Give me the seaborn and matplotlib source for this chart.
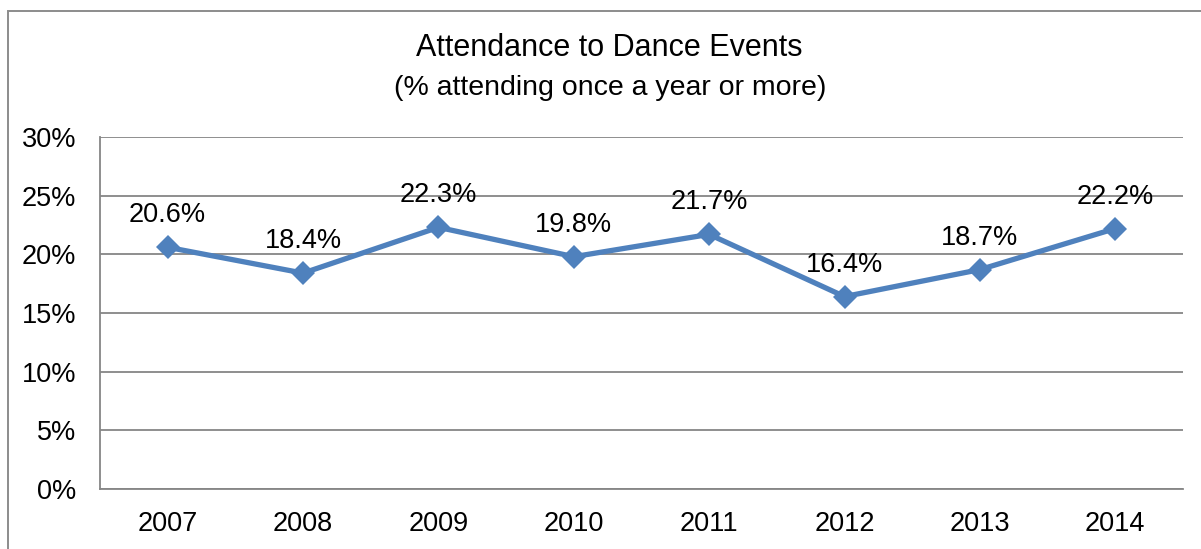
import pandas as pd
import matplotlib
matplotlib.use("Agg")
import matplotlib.pyplot as plt
import seaborn as sns
from matplotlib.patches import Rectangle
from matplotlib.ticker import FixedLocator, PercentFormatter

years = ["2007", "2008", "2009", "2010", "2011", "2012", "2013", "2014"]
attendance = [20.6, 18.4, 22.3, 19.8, 21.7, 16.4, 18.7, 22.2]
y_ticks = [0, 5, 10, 15, 20, 25, 30]

sns.set_theme(style="white")
plt.rcParams['font.family'] = ['Liberation Sans', 'DejaVu Sans']

GREY = '#868686'
LINE = '#4F81BD'

df = pd.DataFrame({'Year': years, 'Attendance': attendance})

fig = plt.figure(figsize=(12.01, 5.49), dpi=100)
fig.patch.set_facecolor('white')
ax = fig.add_axes([100 / 1201, 1 - 489 / 549, 1083 / 1201, 352 / 549])

sns.lineplot(data=df, x='Year', y='Attendance', ax=ax, color=LINE,
             linewidth=3.8, marker='D', markersize=12, markeredgewidth=0,
             sort=False)

ax.set_xlim(-0.5, len(years) - 0.5)
ax.set_ylim(0, 30)
ax.set_yticks(y_ticks)
ax.yaxis.set_major_formatter(PercentFormatter(decimals=0))
ax.set_xticks(range(len(years)))
ax.set_xticklabels(years)
ax.xaxis.set_minor_locator(FixedLocator([i - 0.5 for i in range(len(years) + 1)]))
ax.tick_params(axis='x', which='major', length=0, pad=16, labelsize=19.5, colors='black')
ax.tick_params(axis='x', which='minor', length=8, width=1.1, color=GREY, direction='out')
ax.tick_params(axis='y', which='major', length=8, width=1.1, color=GREY, direction='out',
               pad=9, labelsize=19.5, labelcolor='black')
ax.set_xlabel('')
ax.set_ylabel('')

ax.grid(axis='y', color=GREY, linewidth=1.3)
ax.grid(axis='x', visible=False)
ax.set_axisbelow(True)
for side in ['top', 'right']:
    ax.spines[side].set_visible(False)
for side in ['left', 'bottom']:
    ax.spines[side].set_color(GREY)
    ax.spines[side].set_linewidth(1.3)

for i, v in enumerate(attendance):
    ax.annotate(f'{v:.1f}%', (i, v), xytext=(0, 18), textcoords='offset points',
                ha='center', va='baseline', fontsize=19.5, color='black')

fig.text(609 / 1201, 1 - 48 / 549, 'Attendance to Dance Events', ha='center', va='center',
         fontsize=22, color='black')
fig.text(610 / 1201, 1 - 88 / 549, '(% attending once a year or more)', ha='center', va='center',
         fontsize=20.5, color='black')

# outer chart frame
fig.patches.append(Rectangle((8 / 1201, -0.1), 1.2, 1.1 - 11 / 549, transform=fig.transFigure,
                             fill=False, edgecolor='#8C8C8C', linewidth=1.4))

fig.savefig('out.png', dpi=100)
